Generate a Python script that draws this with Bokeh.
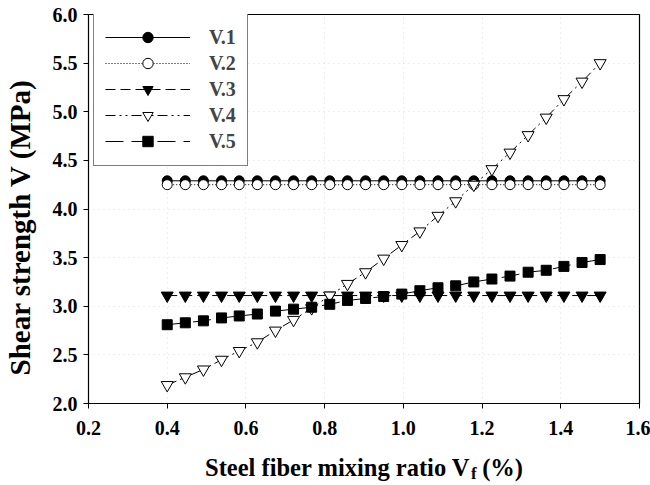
from bokeh.plotting import figure
from bokeh.layouts import column
from bokeh.models import FixedTicker, NumeralTickFormatter, Range1d
from bokeh.core.properties import value
from bokeh.embed import file_html
from bokeh.resources import INLINE

# Steel fiber mixing ratio Vf (%)
vf = [0.400, 0.446, 0.492, 0.538, 0.583, 0.629, 0.675, 0.721, 0.767, 0.813,
      0.858, 0.904, 0.950, 0.996, 1.042, 1.088, 1.133, 1.179, 1.225, 1.271,
      1.317, 1.363, 1.408, 1.454, 1.500]

# Shear strength V (MPa) from each equation
v1 = [4.29] * 25
v2 = [4.25] * 25
v3 = [3.11] * 25
v4 = [2.19, 2.27, 2.35, 2.45, 2.54, 2.63, 2.75, 2.86, 2.98, 3.11,
      3.23, 3.35, 3.49, 3.63, 3.77, 3.93, 4.08, 4.25, 4.41, 4.58,
      4.76, 4.94, 5.13, 5.31, 5.50]
v5 = [2.81, 2.83, 2.85, 2.88, 2.90, 2.92, 2.95, 2.97, 2.99, 3.02,
      3.06, 3.08, 3.10, 3.125, 3.16, 3.19, 3.21, 3.25, 3.28, 3.31,
      3.35, 3.37, 3.41, 3.45, 3.48]

x_ticks = [0.2, 0.4, 0.6, 0.8, 1.0, 1.2, 1.4, 1.6]
y_ticks = [2.0, 2.5, 3.0, 3.5, 4.0, 4.5, 5.0, 5.5, 6.0]

SERIF = "Liberation Serif"
X_MIN, X_MAX = 0.2, 1.6
MAIN_H = 445
STRIP_H = 40

p = figure(width=650, height=MAIN_H, output_backend="svg", toolbar_location=None,
           title=None,
           x_range=Range1d(X_MIN, X_MAX), y_range=Range1d(2.0, 6.0),
           min_border_left=81, min_border_right=11,
           min_border_top=14, min_border_bottom=MAIN_H - 403)
p.background_fill_color = "white"
p.border_fill_color = "white"
p.outline_line_color = "black"
p.outline_line_width = 1.2

for ax in (p.xaxis, p.yaxis):
    ax.major_tick_in = 0
    ax.major_tick_out = 5
    ax.minor_tick_line_color = None
    ax.axis_line_color = "black"
    ax.major_tick_line_color = "black"
    ax.major_label_text_font = SERIF
    ax.major_label_text_font_style = "bold"
    ax.major_label_text_font_size = "20px"
    ax.major_label_text_color = "black"
    ax.formatter = NumeralTickFormatter(format="0.0")

p.xaxis.ticker = FixedTicker(ticks=x_ticks)
p.yaxis.ticker = FixedTicker(ticks=y_ticks)
p.xaxis.major_label_standoff = 12
p.yaxis.major_label_standoff = 6

# trailing no-break spaces nudge the rotated title slightly downward
p.yaxis.axis_label = "Shear strength V (MPa)" + "\u00a0" * 5
p.yaxis.axis_label_text_font = SERIF
p.yaxis.axis_label_text_font_style = "bold"
p.yaxis.axis_label_text_font_size = "29px"
p.yaxis.axis_label_text_color = "black"
p.yaxis.axis_label_standoff = 14

for g in (p.xgrid, p.ygrid):
    g.grid_line_color = "#c0c0c0"
    g.grid_line_dash = "1 4"
    g.grid_line_alpha = 0.5

# series: (values, label, dash, marker, size, fill)
series = [
    (v1, "V.1", "solid", "circle", 10, "black"),
    (v2, "V.2", "1 2", "circle", 10, "white"),
    (v3, "V.3", "10 5", "inverted_triangle", 12, "black"),
    (v4, "V.4", "10 4 2 4 2 4", "inverted_triangle", 12, "white"),
    (v5, "V.5", "18 8", "square", 10, "black"),
]
for vals, lab, dash, mk, sz, fill in series:
    p.line(vf, vals, line_color="black", line_width=1, line_dash=dash,
           legend_label=lab)
    p.scatter(vf, vals, marker=mk, size=sz, fill_color=fill,
              line_color="black", line_width=1, legend_label=lab)

leg = p.legend[0]
leg.location = (5, 237)
leg.margin = 0
leg.padding = 11
leg.spacing = 0
leg.glyph_width = 85
leg.glyph_height = 26
leg.label_height = 26
leg.label_standoff = 19
leg.label_text_font = SERIF
leg.label_text_font_style = "bold"
leg.label_text_font_size = "20px"
leg.border_line_color = "black"
leg.border_line_width = 1.5
leg.background_fill_color = "white"
leg.background_fill_alpha = 1.0

# x-axis title strip (with subscript f); shares the main frame's x extent
t = figure(width=650, height=STRIP_H, output_backend="svg", toolbar_location=None,
           title=None,
           x_range=Range1d(X_MIN, X_MAX), y_range=Range1d(0, STRIP_H),
           min_border_left=81, min_border_right=11,
           min_border_top=0, min_border_bottom=0,
           x_axis_location=None, y_axis_location=None)
t.grid.visible = False
t.outline_line_color = None
t.background_fill_color = "white"
t.border_fill_color = "white"

fs = 24.5
sub_fs = 17
w_main = 10.832 * fs
w_sub = 0.333 * sub_fs
w_gap = 0.25 * fs
total = w_main + w_sub + w_gap + 1.666 * fs
centre = 0.9
anchor_off = w_main - total / 2   # end of "V", relative to the centre
mid = 18          # vertical middle of the title line, px above the bottom
style = dict(text_font=value(SERIF), text_font_style="bold", text_color="black",
             text_baseline="middle")
t.text(x=[centre], y=[mid], text=["Steel fiber mixing ratio V"],
       x_offset=anchor_off, text_align="right",
       text_font_size=f"{fs}px", **style)
t.text(x=[centre], y=[mid - 6], text=["f"],
       x_offset=anchor_off + 0.5, text_align="left",
       text_font_size=f"{sub_fs}px", **style)
t.text(x=[centre], y=[mid], text=["(%)"],
       x_offset=anchor_off + w_sub + w_gap, text_align="left",
       text_font_size=f"{fs}px", **style)

layout = column(p, t, spacing=0)
open("out.html", "w").write(file_html(layout, INLINE))
